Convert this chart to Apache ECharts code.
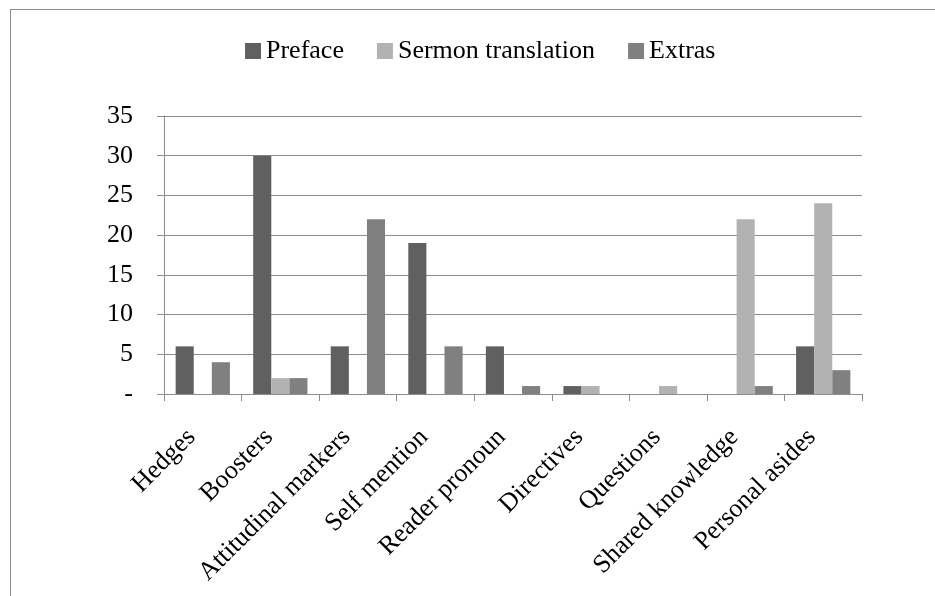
<!DOCTYPE html>
<html>
<head>
<meta charset="utf-8">
<script src="https://cdn.jsdelivr.net/npm/echarts@6/dist/echarts.min.js"></script>
<style>
  body { margin: 0; background: #fff; }
  #frame { position: absolute; left: 10px; top: 9px; width: 1000px; height: 700px;
           border-left: 1px solid #8c8c8c; border-top: 1px solid #8c8c8c; }
  #main { position: absolute; left: 0; top: 0; width: 935px; height: 596px; }
</style>
</head>
<body>
<div id="frame"></div>
<div id="main"></div>
<script>
  // 类别
  var categories = ['Hedges', 'Boosters', 'Attitudinal markers', 'Self mention', 'Reader pronoun',
    'Directives', 'Questions', 'Shared knowledge', 'Personal asides'];
  // 数据
  var prefaceData = [6, 30, 6, 19, 6, 1, 0, 0, 6];
  var sermonData = [0, 2, 0, 0, 0, 1, 1, 22, 24];
  var extrasData = [4, 2, 22, 6, 1, 0, 0, 1, 3];
  var legendNames = ['Preface', 'Sermon translation', 'Extras'];

  var font = '"Liberation Serif", "Times New Roman", serif';

  var chart = echarts.init(document.getElementById('main'));
  chart.setOption({
    animation: false,
    textStyle: { fontFamily: font },
    legend: {
      top: 33,
      left: 240,
      icon: 'rect',
      itemWidth: 16,
      itemHeight: 16,
      itemGap: 33,
      textStyle: { fontFamily: font, fontSize: 26, color: '#000' },
      data: legendNames
    },
    grid: {
      left: 164,
      right: 73,
      top: 116,
      bottom: 202
    },
    xAxis: {
      type: 'category',
      data: categories,
      axisLine: { lineStyle: { color: '#8c8c8c' } },
      axisTick: { show: true, length: 7, lineStyle: { color: '#8c8c8c' } },
      axisLabel: {
        rotate: 45,
        interval: 0,
        margin: 28,
        padding: [0, 16, 0, 0],
        fontFamily: font,
        fontSize: 26,
        color: '#000'
      }
    },
    yAxis: {
      type: 'value',
      min: 0,
      max: 35,
      interval: 5,
      axisLine: { show: true, lineStyle: { color: '#8c8c8c' } },
      axisTick: { show: true, length: 7, lineStyle: { color: '#8c8c8c' } },
      splitLine: { lineStyle: { color: '#8c8c8c' } },
      axisLabel: {
        margin: 31,
        fontFamily: font,
        fontSize: 26,
        color: '#000',
        formatter: function (v) { return v === 0 ? '-' : v; }
      }
    },
    series: [
      {
        name: legendNames[0],
        type: 'bar',
        barGap: 0,
        barCategoryGap: '30%',
        itemStyle: { color: '#606060' },
        data: prefaceData
      },
      {
        name: legendNames[1],
        type: 'bar',
        barGap: 0,
        barCategoryGap: '30%',
        itemStyle: { color: '#b2b2b2' },
        data: sermonData
      },
      {
        name: legendNames[2],
        type: 'bar',
        barGap: 0,
        barCategoryGap: '30%',
        itemStyle: { color: '#808080' },
        data: extrasData
      }
    ]
  });
</script>
</body>
</html>
